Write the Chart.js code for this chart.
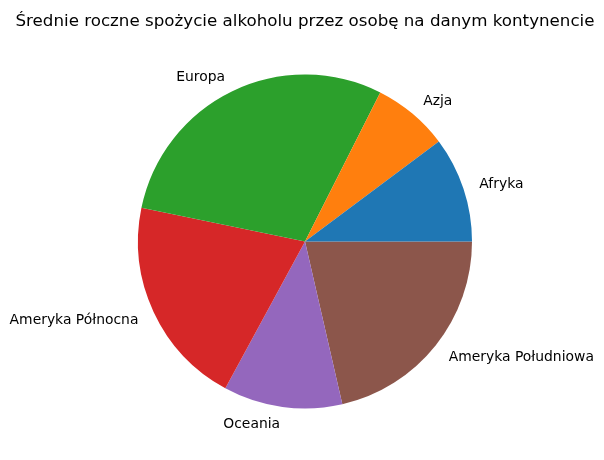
<!DOCTYPE html>
<html>
<head>
<meta charset="utf-8">
<script src="https://cdn.jsdelivr.net/npm/chart.js@4/dist/chart.umd.min.js"></script>
<style>
  html, body { margin: 0; padding: 0; background: #fff; }
  canvas { display: block; }
</style>
</head>
<body>
<canvas id="pieChart" width="604" height="460"></canvas>
<script>
const title = "Średnie roczne spożycie alkoholu przez osobę na danym kontynencie";
const continents = ["Afryka", "Azja", "Europa", "Ameryka Północna", "Oceania", "Ameryka Południowa"];
const consumption = [10.2, 7.35, 29.2, 20.3, 11.5, 21.4];
const colors = ["#1f77b4", "#ff7f0e", "#2ca02c", "#d62728", "#9467bd", "#8c564b"];

// matplotlib goes counter-clockwise from east, Chart.js clockwise -> reverse
const labelsRev = continents.slice().reverse();
const valuesRev = consumption.slice().reverse();
const colorsRev = colors.slice().reverse();

const FONT = "'DejaVu Sans', sans-serif";

const outsideLabels = {
  id: "outsideLabels",
  afterDraw(chart) {
    const { ctx } = chart;
    const meta = chart.getDatasetMeta(0);
    ctx.save();
    ctx.fillStyle = "#000";
    ctx.font = "13.9px " + FONT;
    ctx.textBaseline = "middle";
    meta.data.forEach((arc, i) => {
      const mid = (arc.startAngle + arc.endAngle) / 2;
      const r = arc.outerRadius * 1.1;
      const x = arc.x + r * Math.cos(mid);
      const y = arc.y + r * Math.sin(mid) + 1;
      ctx.textAlign = Math.cos(mid) > 0 ? "left" : "right";
      ctx.fillText(chart.data.labels[i], x, y);
    });

    ctx.font = "16.7px " + FONT;
    ctx.textAlign = "center";
    ctx.textBaseline = "alphabetic";
    ctx.fillText(title, 305, 26);
    ctx.restore();
  }
};

new Chart(document.getElementById("pieChart"), {
  type: "pie",
  data: {
    labels: labelsRev,
    datasets: [{
      data: valuesRev,
      backgroundColor: colorsRev,
      borderWidth: 0,
      hoverOffset: 0
    }]
  },
  options: {
    responsive: false,
    animation: false,
    rotation: 90,
    layout: {
      padding: { left: 138, right: 132, top: 74.5, bottom: 51.5 }
    },
    plugins: {
      legend: { display: false },
      tooltip: { enabled: false },
      title: { display: false }
    }
  },
  plugins: [outsideLabels]
});
</script>
</body>
</html>
